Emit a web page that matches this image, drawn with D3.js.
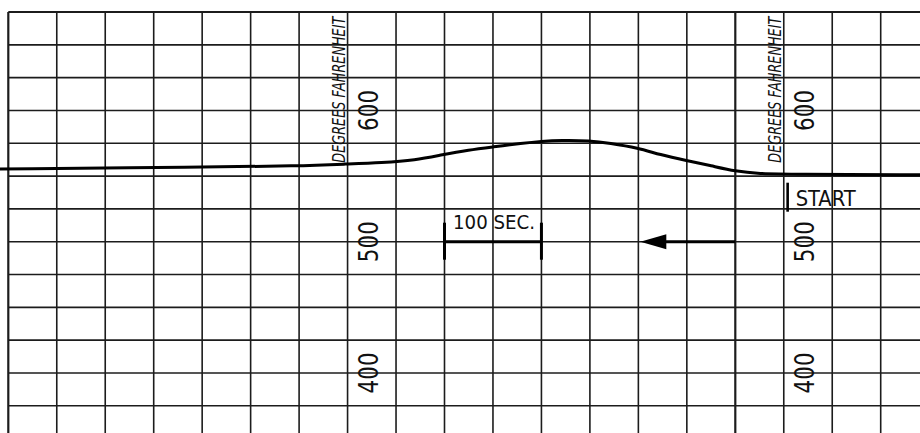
<!DOCTYPE html>
<html>
<head>
<meta charset="utf-8">
<script src="https://cdn.jsdelivr.net/npm/d3@7"></script>
<style>
  html, body { margin: 0; padding: 0; background: #fff; }
  svg { display: block; }
  text { font-family: "DejaVu Sans Condensed", "DejaVu Sans", Verdana, sans-serif; fill: #111; }
</style>
</head>
<body>
<svg id="chart" width="920" height="433"></svg>
<script>
// Recorder trace: elapsed seconds (chart runs right to left) vs. temperature in °F
const curveTime = [910, 700, 600, 550, 515, 480, 452, 425, 400, 370, 350, 330, 300, 280, 250, 228, 200, 175, 150, 125, 95, -42];
const curveTemp = [555.4, 556.7, 557.7, 559.2, 560.2, 562.0, 566.3, 569.9, 572.2, 575.0, 576.5, 577.3, 577.0, 575.2, 571.4, 566.3, 561.7, 557.9, 553.6, 551.8, 551.4, 551.0];

// Scale labels printed on the chart paper
const tempLabels = [600, 500, 400];
const labelColumns = [550, 100];          // seconds where a scale column is printed
const unitLabel = "DEGREES FAHRENHEIT";

// Annotations
const startTime = 96;
const scaleBar = { from: 450, to: 350, temp: 500, label: "100 SEC." };
const arrow = { from: 150, to: 248, temp: 500 };

const width = 920, height = 433;
const svg = d3.select("#chart");

// Grid: 50 s per column, 25 °F per row
const x = d3.scaleLinear().domain([900, 0]).range([8.3, 880.7]);
const y = d3.scaleLinear().domain([500, 600]).range([241.7, 110.45]);

const timeGrid = d3.range(0, 901, 50);
const tempGrid = d3.range(375, 676, 25);
const tMax = 900, tempTop = 675;

const gridColor = "#1c1c1c";
const grid = svg.append("g");

grid.selectAll("line.v").data(timeGrid).join("line")
  .attr("x1", d => x(d)).attr("x2", d => x(d))
  .attr("y1", y(tempTop)).attr("y2", height)
  .attr("stroke", gridColor)
  .attr("stroke-width", d => d === tMax ? 2.2 : (d === 150 ? 2.2 : 1.6));

grid.selectAll("line.h").data(tempGrid).join("line")
  .attr("x1", x(tMax)).attr("x2", width)
  .attr("y1", d => y(d)).attr("y2", d => y(d))
  .attr("stroke", gridColor)
  .attr("stroke-width", d => d === tempTop ? 2.2 : 1.6);

// Temperature trace
const line = d3.line()
  .x((d, i) => x(curveTime[i]))
  .y(d => y(d))
  .curve(d3.curveBasis);

svg.append("path")
  .datum(curveTemp)
  .attr("d", line)
  .attr("fill", "none")
  .attr("stroke", "#000")
  .attr("stroke-width", 3);

// Scale columns: unit label and rotated values
labelColumns.forEach(col => {
  const gx = x(col);
  svg.append("text")
    .attr("transform", `translate(${gx - 2.5},${y(560.2)}) rotate(-90) scale(1,1.3)`)
    .attr("text-anchor", "start")
    .attr("font-size", 13)
    .attr("font-style", "italic")
    .attr("textLength", 146)
    .attr("lengthAdjust", "spacingAndGlyphs")
    .text(unitLabel);

  svg.selectAll(null).data(tempLabels).join("text")
    .attr("transform", d => `translate(${gx + 30},${y(d)}) rotate(-90)`)
    .attr("text-anchor", "middle")
    .attr("font-size", 27)
    .attr("textLength", 41)
    .attr("lengthAdjust", "spacingAndGlyphs")
    .text(d => d);
});

// START marker
svg.append("line")
  .attr("x1", x(startTime)).attr("x2", x(startTime))
  .attr("y1", 182.7).attr("y2", 211.7)
  .attr("stroke", "#000").attr("stroke-width", 2.6);
svg.append("text")
  .attr("x", x(startTime) + 8).attr("y", 206)
  .attr("font-size", 21)
  .attr("textLength", 60)
  .attr("lengthAdjust", "spacingAndGlyphs")
  .text("START");

// 100-second scale bar
const by = y(scaleBar.temp);
svg.append("line")
  .attr("x1", x(scaleBar.from)).attr("x2", x(scaleBar.to))
  .attr("y1", by).attr("y2", by)
  .attr("stroke", "#000").attr("stroke-width", 3);
[scaleBar.from, scaleBar.to].forEach(t => {
  svg.append("line")
    .attr("x1", x(t)).attr("x2", x(t))
    .attr("y1", by - 19).attr("y2", by + 18)
    .attr("stroke", "#000").attr("stroke-width", 3);
});
svg.append("text")
  .attr("x", x(scaleBar.from) + 8.5).attr("y", by - 12.5)
  .attr("font-size", 20)
  .attr("textLength", 82)
  .attr("lengthAdjust", "spacingAndGlyphs")
  .text(scaleBar.label);

// Chart direction arrow
const ay = y(arrow.temp);
const tipX = x(arrow.to);
svg.append("line")
  .attr("x1", x(arrow.from)).attr("x2", tipX + 20)
  .attr("y1", ay).attr("y2", ay)
  .attr("stroke", "#000").attr("stroke-width", 3);
svg.append("path")
  .attr("d", `M${tipX},${ay} L${tipX + 26},${ay - 7.5} L${tipX + 26},${ay + 7.5} Z`)
  .attr("fill", "#000");
</script>
</body>
</html>
